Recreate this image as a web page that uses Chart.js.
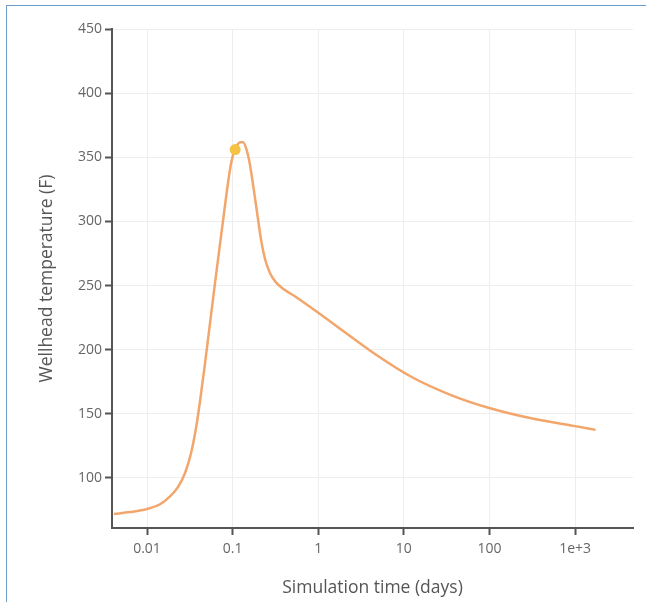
<!DOCTYPE html>
<html>
<head>
<meta charset="utf-8">
<script src="https://cdn.jsdelivr.net/npm/chart.js@4"></script>
<style>
  body { margin: 0; background: #fff; }
  #wrap { position: relative; width: 646px; height: 602px; }
  #frame {
    position: absolute; left: 6px; top: 5px; right: 0; bottom: 0;
    border-left: 1px solid #6c9bc9; border-top: 1px solid #6c9bc9;
    pointer-events: none;
  }
</style>
</head>
<body>
<div id="wrap">
  <canvas id="chart" width="646" height="602"></canvas>
  <div id="frame"></div>
</div>
<script>
// simulation output
const timeDays = [0.00411, 0.00632, 0.01, 0.01419, 0.01858, 0.02307, 0.02781, 0.03271, 0.03741, 0.04169,
  0.04768, 0.05454, 0.06237, 0.07138, 0.07955, 0.0885, 0.096, 0.1042, 0.1129, 0.1225,
  0.1328, 0.1439, 0.156, 0.1738, 0.1936, 0.2155, 0.24, 0.2746, 0.3228, 0.4,
  0.5383, 0.973, 1.96, 4.05, 11.9, 35.0, 97.3, 327, 960, 1738];
const tempF = [71.9, 73.4, 75.8, 79.5, 85.6, 93.0, 103.9, 119.5, 139.1, 160.2,
  189.8, 221.1, 252.3, 282.8, 307.0, 330.5, 345.3, 354.7, 359.4, 361.7,
  361.7, 357.0, 347.7, 328.1, 306.3, 285.2, 270.3, 259.4, 252.3, 246.9,
  241.4, 229.3, 214.5, 199.2, 179.3, 164.8, 154.7, 146.1, 140.6, 137.5];

const markerTime = [0.107];
const markerTemp = [356];

const xTickValues = [0.01, 0.1, 1, 10, 100, 1000];
const xTickLabels = ['0.01', '0.1', '1', '10', '100', '1e+3'];
const yTickValues = [100, 150, 200, 250, 300, 350, 400, 450];

const font = 'Open Sans';
const axisColor = '#555';
const gridColor = '#eeeeee';

const curve = timeDays.map((t, i) => ({ x: t, y: tempF[i] }));
const marker = markerTime.map((t, i) => ({ x: t, y: markerTemp[i] }));

new Chart(document.getElementById('chart'), {
  type: 'line',
  data: {
    datasets: [
      {
        data: marker,
        showLine: false,
        pointRadius: 5.5,
        pointBackgroundColor: '#f5c343',
        pointBorderWidth: 0
      },
      {
        data: curve,
        borderColor: '#f3a66b',
        borderWidth: 2.5,
        pointRadius: 0,
        cubicInterpolationMode: 'monotone',
        fill: false
      }
    ]
  },
  options: {
    responsive: false,
    animation: false,
    devicePixelRatio: 1,
    layout: { padding: { left: 0, top: 29, right: 13, bottom: 0 } },
    plugins: { legend: { display: false }, tooltip: { enabled: false } },
    scales: {
      x: {
        type: 'logarithmic',
        min: 0.0039,
        max: 4750,
        afterBuildTicks: s => { s.ticks = xTickValues.map(v => ({ value: v })); },
        afterFit: s => { s.height = 74; },
        ticks: {
          autoSkip: false, maxRotation: 0, padding: 6, color: '#666',
          font: { family: font, size: 14 },
          callback: (v, i) => xTickLabels[i]
        },
        grid: { color: gridColor, lineWidth: 1, tickColor: axisColor, tickWidth: 2, tickLength: 7 },
        border: { color: axisColor, width: 2 },
        title: {
          display: true, text: 'Simulation time (days)', color: '#555',
          font: { family: font, size: 17.5 }, padding: { top: 0, bottom: 3 }
        }
      },
      y: {
        type: 'linear',
        min: 61,
        max: 450,
        afterBuildTicks: s => { s.ticks = yTickValues.map(v => ({ value: v })); },
        afterFit: s => { s.width = 112; },
        ticks: { padding: 3, color: '#666', font: { family: font, size: 14 } },
        grid: { color: gridColor, lineWidth: 1, tickColor: axisColor, tickWidth: 2, tickLength: 7 },
        border: { color: axisColor, width: 2 },
        title: {
          display: true, text: 'Wellhead temperature (F)', color: '#555',
          font: { family: font, size: 17.5 }, padding: { top: 37, bottom: 0 }
        }
      }
    }
  }
});
</script>
</body>
</html>
